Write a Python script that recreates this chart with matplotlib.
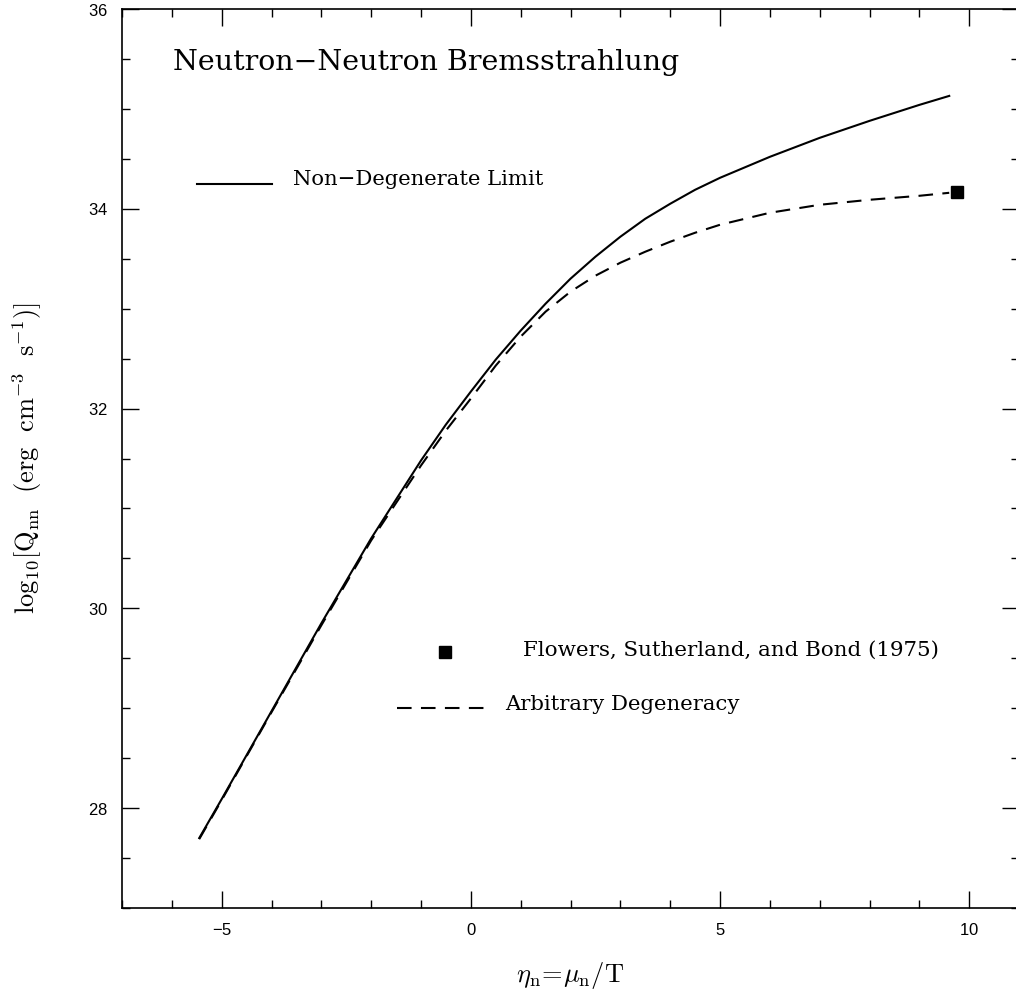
import numpy as np
import matplotlib
matplotlib.use('Agg')
import matplotlib.pyplot as plt
from matplotlib.ticker import MultipleLocator

# values
eta = [-5.45, -5, -4, -3, -2, -1, -0.5, 0, 0.5, 1, 1.5, 2, 2.5, 3, 3.5, 4, 4.5,
       5, 6, 7, 8, 9, 9.6]
q_nondeg = [27.70, 28.09, 28.97, 29.85, 30.70, 31.48, 31.84, 32.17, 32.49, 32.78,
            33.05, 33.30, 33.52, 33.72, 33.90, 34.05, 34.19,
            34.31, 34.52, 34.71, 34.88, 35.04, 35.13]
q_arbdeg = [27.69, 28.08, 28.96, 29.83, 30.68, 31.43, 31.78, 32.10, 32.43, 32.72,
            32.97, 33.17, 33.33, 33.46, 33.57, 33.67, 33.76,
            33.84, 33.96, 34.04, 34.09, 34.13, 34.16]
fsb_eta = [9.75]
fsb_q = [34.17]

plt.rcParams['mathtext.fontset'] = 'cm'
plt.rcParams['axes.formatter.use_mathtext'] = True
serif = ['DejaVu Serif']

fig = plt.figure(figsize=(10.16, 9.94), dpi=100)
ax = fig.add_axes([122/1016, 86/994, 897/1016, 899/994])

ax.plot(eta, q_nondeg, color='black', lw=1.5)
ax.plot(eta, q_arbdeg, color='black', lw=1.5, dashes=(7, 4.5))
ax.plot(fsb_eta, fsb_q, 's', color='black', ms=8.5)

ax.set_xlim(-7, 11)
ax.set_ylim(27, 36)
ax.xaxis.set_major_locator(MultipleLocator(5))
ax.xaxis.set_minor_locator(MultipleLocator(1))
ax.yaxis.set_major_locator(MultipleLocator(2))
ax.yaxis.set_minor_locator(MultipleLocator(0.5))
ax.tick_params(which='both', direction='in', top=True, right=True, width=1)
ax.tick_params(which='major', length=12, labelsize=12, pad=10)
ax.tick_params(which='minor', length=6)
for lab in ax.get_xticklabels() + ax.get_yticklabels():
    lab.set_family('Liberation Sans')
for sp in ax.spines.values():
    sp.set_linewidth(1.2)

ax.set_xlabel(r'$\eta_{\rm n}\!=\!\mu_{\rm n}/{\rm T}$', fontsize=19, labelpad=16)
ax.set_ylabel(r'$\log_{10}\![\mathrm{Q}_{\rm nn}\ \ (\mathrm{erg\ \ cm^{-3}\ \ s^{-1}})]$',
              fontsize=19, labelpad=32)

# title and legend, placed as in the original
ax.text(0.057, 0.932, 'Neutron\u2212Neutron Bremsstrahlung', transform=ax.transAxes,
        fontsize=20.5, family=serif)
ax.plot([0.0836, 0.1672], [0.805, 0.805], color='black', lw=1.5, transform=ax.transAxes)
ax.text(0.1906, 0.804, 'Non\u2212Degenerate Limit', transform=ax.transAxes,
        fontsize=15.2, family=serif)
ax.plot([0.360], [0.2848], 's', color='black', ms=8.5, transform=ax.transAxes)
ax.text(0.447, 0.281, 'Flowers, Sutherland, and Bond (1975)', transform=ax.transAxes,
        fontsize=15.4, family=serif)
ax.plot([0.3066, 0.4047], [0.2225, 0.2225], color='black', lw=1.5, dashes=(7, 4.5),
        transform=ax.transAxes)
ax.text(0.427, 0.220, 'Arbitrary Degeneracy', transform=ax.transAxes,
        fontsize=15.3, family=serif)

fig.savefig('out.png', dpi=100)
